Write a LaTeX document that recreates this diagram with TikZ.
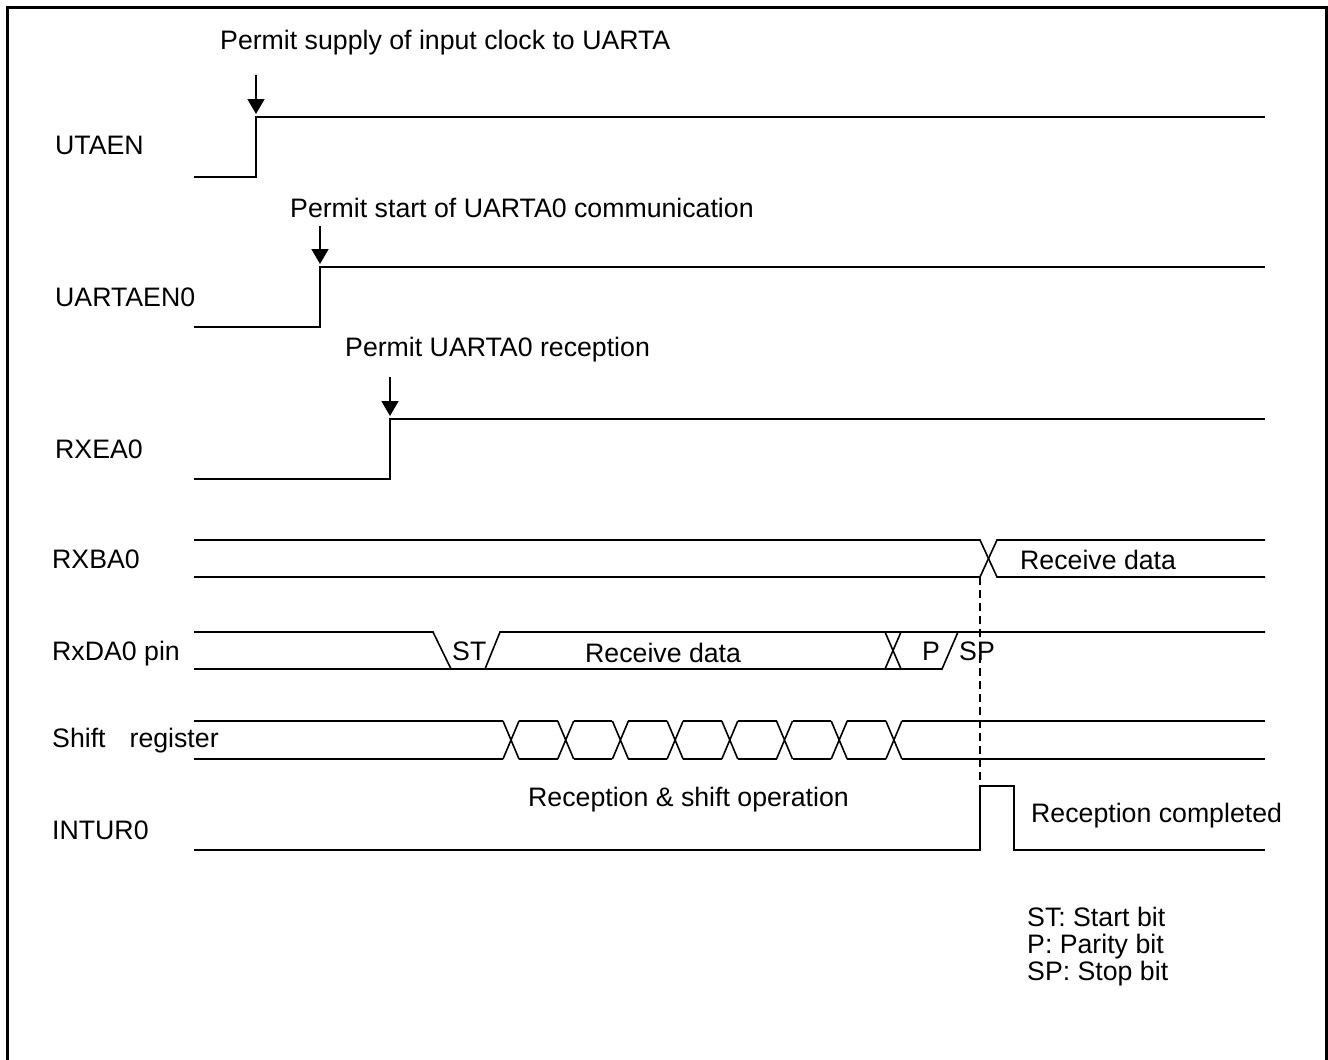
\documentclass[tikz,border=0pt]{standalone}
\usepackage{fontspec}
\setmainfont{Liberation Sans}
\usetikzlibrary{arrows.meta}

\tikzset{
  sig/.style={black, line width=1.6pt},
  permit/.style={black, line width=1.6pt, -{Triangle[width=17pt,length=15pt]}},
  txt/.style={anchor=base west, inner sep=0pt, font=\fontsize{26.7}{32}\selectfont}
}

\begin{document}
\begin{tikzpicture}[x=1pt, y=-1pt]
  \useasboundingbox (0,0) rectangle (1328,1060);
  % frame, open at the bottom
  \draw[black, line width=3pt] (7,1060) -- (7,7) -- (1326,7) -- (1326,1060);

  % signal names
  \node[txt] (n-utaen)  at (55,154) {UTAEN};
  \node[txt] (n-uartaen) at (55,306) {UARTAEN0};
  \node[txt] (n-rxea)   at (55,458) {RXEA0};
  \node[txt] (n-rxba)   at (52,568) {RXBA0};
  \node[txt] (n-rxda)   at (52,660) {RxDA0 pin};
  \node[txt] (n-shift)  at (52,747) {Shift\hspace{0.9em}register};
  \node[txt] (n-intur)  at (52,839) {INTUR0};

  % UTAEN
  \node[txt] (supply) at (220,49) {Permit supply of input clock to UARTA};
  \coordinate (utaen-tail) at (256,75);
  \coordinate (utaen-up) at (256,114);
  \draw[sig] (194,177) -- (256,177) -- (256,117) -- (1265,117);
  \draw[permit] (utaen-tail) -- (utaen-up);

  % UARTAEN0
  \node[txt] (start) at (290,217) {Permit start of UARTA0 communication};
  \coordinate (uartaen-tail) at (320,226);
  \coordinate (uartaen-up) at (320,264);
  \draw[sig] (194,327) -- (320,327) -- (320,267) -- (1265,267);
  \draw[permit] (uartaen-tail) -- (uartaen-up);

  % RXEA0
  \node[txt] (recv) at (345,356) {Permit UARTA0 reception};
  \coordinate (rxea-tail) at (390,377);
  \coordinate (rxea-up) at (390,416);
  \draw[sig] (194,479) -- (390,479) -- (390,419) -- (1265,419);
  \draw[permit] (rxea-tail) -- (rxea-up);

  % RXBA0
  \draw[sig] (194,540) -- (980,540) -- (997,577) -- (1265,577);
  \draw[sig] (194,577) -- (980,577) -- (997,540) -- (1265,540);
  \node[txt] (rxba-data) at (1020,569) {Receive data};

  % RxDA0 pin
  \draw[sig] (194,632) -- (433,632) -- (451,669);
  \draw[sig] (194,669) -- (942,669) -- (958,632);
  \draw[sig] (485,669) -- (500,632) -- (1265,632);
  \draw[sig] (885,669) -- (901,632) (885,632) -- (901,669);
  \node[txt] (st) at (452,660) {ST};
  \node[txt] (rxda-data) at (585,662) {Receive data};
  \node[txt] (p) at (922,660) {P};
  \node[txt] (sp) at (959,660) {SP};

  % Shift register
  \draw[sig] (194,721) -- (503,721) (194,759) -- (503,759);
  \foreach \x in {503,557.7,...,886} {
    \draw[sig] (\x,721) -- ++(16,38) (\x,759) -- ++(16,-38);
  }
  \foreach \x in {519,573.7,...,850} {
    \draw[sig] (\x,721) -- ++(38.7,0) (\x,759) -- ++(38.7,0);
  }
  \draw[sig] (902,721) -- (1265,721) (902,759) -- (1265,759);
  \node[txt] (shift-op) at (528,806) {Reception \& shift operation};

  % INTUR0
  \draw[sig] (194,850) -- (980,850) -- (980,786) -- (1014,786) -- (1014,850) -- (1265,850);
  \node[txt] (done) at (1031,822) {Reception completed};

  % marker from RXBA0 down to INTUR0
  \coordinate (rxba-cross) at (980,577);
  \coordinate (intur-rise) at (980,786);
  \draw[black, line width=1.6pt, dash pattern=on 8pt off 5pt] (rxba-cross) -- (intur-rise);

  % legend
  \node[txt] (leg-st) at (1027,926) {ST: Start bit};
  \node[txt] (leg-p)  at (1027,953) {P: Parity bit};
  \node[txt] (leg-sp) at (1027,980) {SP: Stop bit};
\end{tikzpicture}
\end{document}
